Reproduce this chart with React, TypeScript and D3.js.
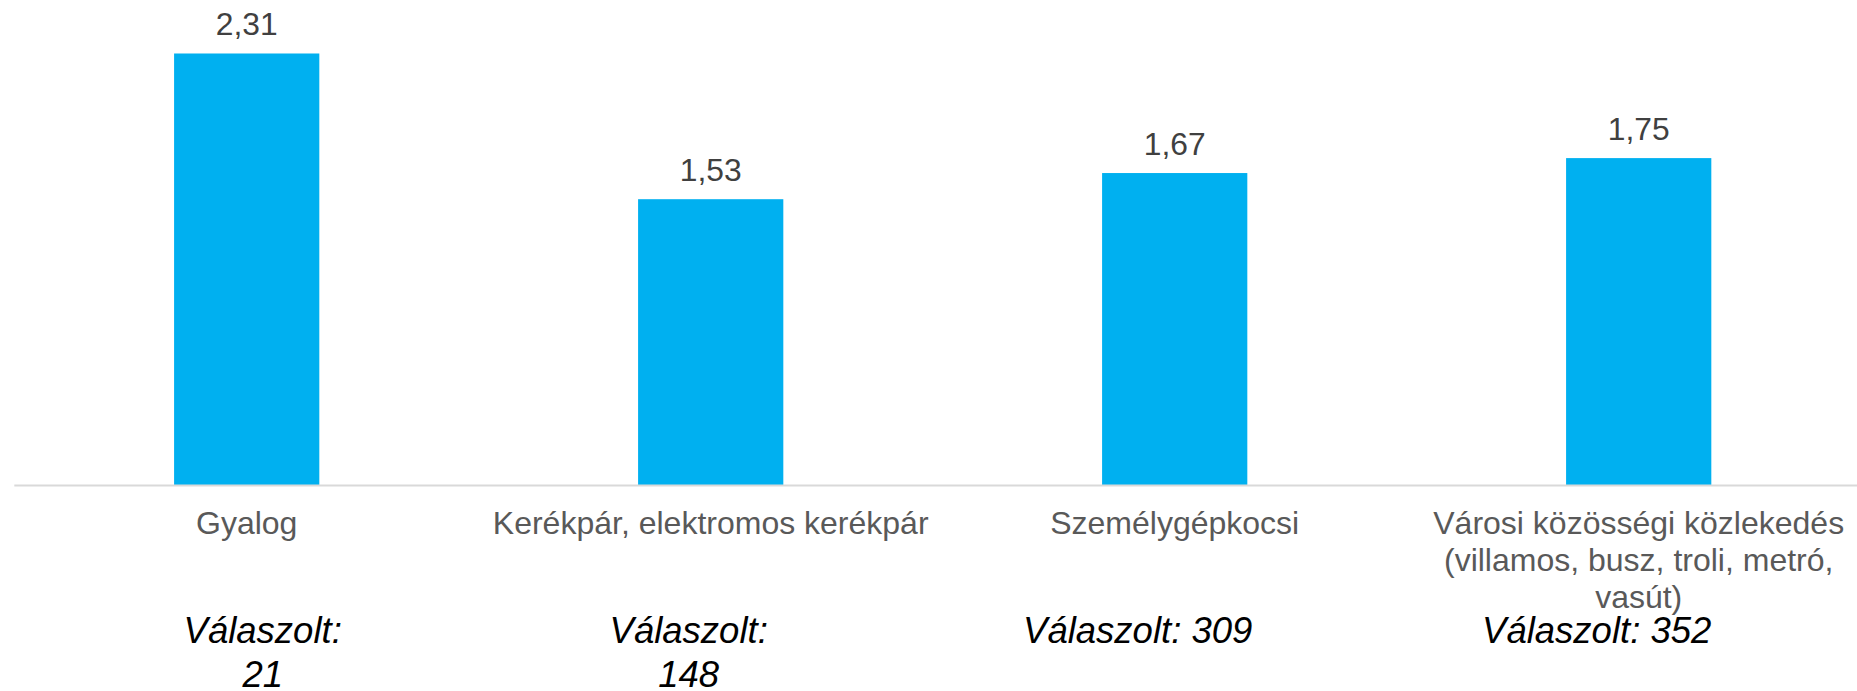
import React from "react";
import * as d3 from "d3";

const categories = [
  "Gyalog",
  "Kerékpár, elektromos kerékpár",
  "Személygépkocsi",
  "Városi közösségi közlekedés (villamos, busz, troli, metró, vasút)",
];
const categoryLines = [
  ["Gyalog"],
  ["Kerékpár, elektromos kerékpár"],
  ["Személygépkocsi"],
  ["Városi közösségi közlekedés", "(villamos, busz, troli, metró,", "vasút)"],
];
const values = [2.31, 1.53, 1.67, 1.75];
const respondents = [21, 148, 309, 352];
const respondentLines = [
  ["Válaszolt:", "21"],
  ["Válaszolt:", "148"],
  ["Válaszolt: 309"],
  ["Válaszolt: 352"],
];

const W = 1857;
const H = 691;
const FONT = "'Liberation Sans', Arial, Helvetica, sans-serif";
const respondentOffsets = [16, -22, -37, -42];

export default function App() {
  const x = d3
    .scaleBand<string>()
    .domain(categories)
    .range([14.7, 14.7 + 464 * 4])
    .paddingInner(0.687)
    .paddingOuter(0.3435);
  const y = d3.scaleLinear().domain([0, 2.5]).range([485, 18]);
  const fmt = (v: number) => d3.format(".2f")(v).replace(".", ",");
  const bw = x.bandwidth();

  return (
    <svg
      width={W}
      height={H}
      style={{ position: "absolute", left: 0, top: 0, background: "#fff" }}
      fontFamily={FONT}
    >
      {categories.map((c, i) => (
        <rect
          key={c}
          x={x(c)!}
          y={y(values[i])}
          width={bw}
          height={y(0) - y(values[i])}
          fill="#00B0F0"
        />
      ))}
      <line x1={14.3} x2={W} y1={y(0) + 0.5} y2={y(0) + 0.5} stroke="#D9D9D9" strokeWidth={2} />
      {categories.map((c, i) => (
        <text
          key={"v" + c}
          x={x(c)! + bw / 2}
          y={y(values[i]) - 18}
          textAnchor="middle"
          fontSize={31.8}
          fill="#404040"
        >
          {fmt(values[i])}
        </text>
      ))}
      {categories.map((c, i) => (
        <text
          key={"c" + c}
          x={x(c)! + bw / 2}
          y={534}
          textAnchor="middle"
          fontSize={32}
          fill="#595959"
        >
          {categoryLines[i].map((l, j) => (
            <tspan key={j} x={x(c)! + bw / 2} dy={j === 0 ? 0 : 36.8}>
              {l}
            </tspan>
          ))}
        </text>
      ))}
      {categories.map((c, i) => (
        <text
          key={"r" + respondents[i]}
          x={x(c)! + bw / 2 + respondentOffsets[i]}
          y={643}
          textAnchor="middle"
          fontSize={36.5}
          fontStyle="italic"
          fill="#000"
        >
          {respondentLines[i].map((l, j) => (
            <tspan key={j} x={x(c)! + bw / 2 + respondentOffsets[i]} dy={j === 0 ? 0 : 44}>
              {l}
            </tspan>
          ))}
        </text>
      ))}
    </svg>
  );
}
